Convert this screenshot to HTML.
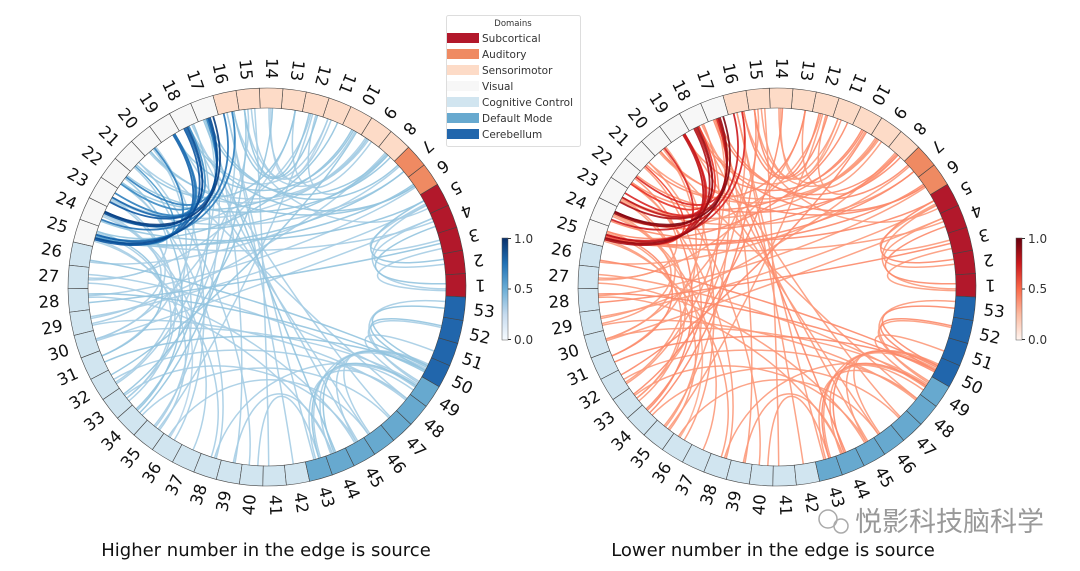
<!DOCTYPE html>
<html><head><meta charset="utf-8">
<style>
body{margin:0;background:#fff;width:1080px;height:571px;overflow:hidden;font-family:"DejaVu Sans","Liberation Sans",sans-serif}
svg{display:block}
</style></head>
<body>
<svg id="chart" width="1080" height="571" viewBox="0 0 1080 571">
<defs>
<linearGradient id="gBlues" x1="0" y1="1" x2="0" y2="0">
<stop offset="0" stop-color="#f7fbff"/><stop offset="0.25" stop-color="#c6dbef"/><stop offset="0.5" stop-color="#6baed6"/><stop offset="0.75" stop-color="#2171b5"/><stop offset="1" stop-color="#08306b"/>
</linearGradient>
<linearGradient id="gReds" x1="0" y1="1" x2="0" y2="0">
<stop offset="0" stop-color="#fff5f0"/><stop offset="0.25" stop-color="#fcbba1"/><stop offset="0.5" stop-color="#fb6a4a"/><stop offset="0.75" stop-color="#cb181d"/><stop offset="1" stop-color="#67000d"/>
</linearGradient>
</defs>
<g id="left"></g>
<g id="right"></g>

<g>
<rect x="502" y="238" width="6" height="102" fill="url(#gBlues)" stroke="#555" stroke-width="0.5"/>
<line x1="508" y1="238.5" x2="511" y2="238.5" stroke="#333"/><line x1="508" y1="289" x2="511" y2="289" stroke="#333"/><line x1="508" y1="339.5" x2="511" y2="339.5" stroke="#333"/>
<text x="514" y="243" font-size="12" fill="#333">1.0</text><text x="514" y="293" font-size="12" fill="#333">0.5</text><text x="514" y="344" font-size="12" fill="#333">0.0</text>
</g>
<g>
<rect x="1016" y="238" width="6" height="102" fill="url(#gReds)" stroke="#555" stroke-width="0.5"/>
<line x1="1022" y1="238.5" x2="1025" y2="238.5" stroke="#333"/><line x1="1022" y1="289" x2="1025" y2="289" stroke="#333"/><line x1="1022" y1="339.5" x2="1025" y2="339.5" stroke="#333"/>
<text x="1028" y="243" font-size="12" fill="#333">1.0</text><text x="1028" y="293" font-size="12" fill="#333">0.5</text><text x="1028" y="344" font-size="12" fill="#333">0.0</text>
</g>

<g>
<rect x="446.5" y="15.5" width="134" height="131" rx="2" fill="#fff" stroke="#ddd"/>
<text x="513" y="26" font-size="8.5" text-anchor="middle" fill="#333">Domains</text>
<g font-size="10.5" fill="#333">
<rect x="447" y="33" width="32" height="10" fill="#b2182b"/><text x="482" y="42">Subcortical</text>
<rect x="447" y="49" width="32" height="10" fill="#ef8a62"/><text x="482" y="58">Auditory</text>
<rect x="447" y="65" width="32" height="10" fill="#fddbc7"/><text x="482" y="74">Sensorimotor</text>
<rect x="447" y="81" width="32" height="10" fill="#f7f7f7"/><text x="482" y="90">Visual</text>
<rect x="447" y="97" width="32" height="10" fill="#d1e5f0"/><text x="482" y="106">Cognitive Control</text>
<rect x="447" y="113" width="32" height="10" fill="#67a9cf"/><text x="482" y="122">Default Mode</text>
<rect x="447" y="129" width="32" height="10" fill="#2166ac"/><text x="482" y="138">Cerebellum</text>
</g></g>

<text x="266" y="556" font-size="18" text-anchor="middle" fill="#111">Higher number in the edge is source</text>
<text x="773" y="556" font-size="18" text-anchor="middle" fill="#111">Lower number in the edge is source</text>
<g>
<circle cx="828" cy="519" r="9" fill="none" stroke="#aaa" stroke-width="1.5"/><circle cx="841" cy="526" r="7" fill="none" stroke="#aaa" stroke-width="1.5"/>
<text x="855" y="531" font-size="27" fill="#999" font-family="'Liberation Sans','Noto Sans CJK SC',sans-serif">悦影科技脑科学</text>
</g>
</svg>
<script>
const domainNames = ["Subcortical","Auditory","Sensorimotor","Visual","Cognitive Control","Default Mode","Cerebellum"];
const domainColors = ["#b2182b","#ef8a62","#fddbc7","#f7f7f7","#d1e5f0","#67a9cf","#2166ac"];
const domainCounts = [5,2,9,9,17,7,4];
const edgePairs = [
[17,24],[17,25],[18,24],[18,25],[19,25],[17,23],[18,23],[19,24],[20,25],[17,22],[16,24],[16,25],[18,22],[21,25],[19,23],
[25,6],[25,7],[24,5],[24,8],[23,9],[22,10],[25,11],[24,12],[21,13],[20,9],[19,10],[18,11],[17,8],[16,12],[15,11],[14,10],[15,12],[13,9],[17,7],[18,6],[16,5],[25,4],[23,7],[15,9],[12,8],[14,11],[20,6],[22,8],[21,9],
[1,4],[2,5],[1,5],[2,4],[3,5],[1,3],
[53,50],[52,50],[53,49],[51,49],[52,49],
[43,49],[44,49],[44,50],[45,50],[43,50],[46,50],[43,48],
[26,50],[28,50],[30,49],[31,50],[29,48],[33,14],[34,15],[35,12],[32,10],[29,8],[36,20],[38,22],[40,21],[44,17],[45,18],[46,19],[42,16],[37,24],[33,23],[34,22],[35,21],[32,20],[31,19],[30,15],[27,13],[26,7],[28,6],[27,22],[29,24],[31,25],[30,23],[33,25],[35,25],[36,24],[38,25],[39,17],[41,15],[43,16],[47,18],[48,20],[27,49],[32,48],[34,47],[36,46],[33,45],[39,44],[40,43],[29,5],[30,4],[28,3],[34,18],[35,17],[33,16],[32,17],[44,28],[45,27],[38,49]
];
const edgeWeights = [
.95,.9,.9,.85,.8,.85,.8,.75,.7,.7,.75,.7,.65,.6,.7,
.4,.4,.4,.4,.35,.4,.4,.35,.4,.35,.4,.35,.4,.4,.35,.35,.4,.35,.4,.4,.35,.35,.35,.35,.35,.3,.4,.4,.35,
.4,.4,.35,.35,.35,.35,
.4,.4,.35,.35,.35,
.4,.35,.4,.35,.35,.35,.35,
.4,.4,.35,.4,.35,.4,.4,.35,.4,.35,
.35,.35,.35,.4,.35,.35,.35,.35,.35,.4,
.35,.35,.35,.35,.35,.35,.35,.35,.35,.4,
.35,.35,.35,.3,.35,.35,.35,.35,.35,.35,
.35,.35,.35,.35,.35,.35,.35,.35,.35,.4,
.4,.35,.35,.35,.35,.35,.35
];
const blues=["#f7fbff","#deebf7","#c6dbef","#9ecae1","#6baed6","#4292c6","#2171b5","#08519c","#08306b"];
const reds=["#fff5f0","#fee0d2","#fcbba1","#fc9272","#fb6a4a","#ef3b2c","#cb181d","#a50f15","#67000d"];
function cmap(stops,v){if(!(v>=0))v=0;v=Math.min(1,v);const t=v*(stops.length-1);const i=Math.min(Math.floor(t),stops.length-2);const f=t-i;
const a=stops[i],b=stops[i+1];const c=k=>Math.round(parseInt(a.substr(k,2),16)*(1-f)+parseInt(b.substr(k,2),16)*f);return `rgb(${c(1)},${c(3)},${c(5)})`;}
const NS="http://www.w3.org/2000/svg";
const N=53, step=360/N, R_OUT=199, R_IN=179;
function ang(i){return (i-1)*step+0.5;}
function pt(cx,cy,r,deg){const a=deg*Math.PI/180;return [cx+r*Math.cos(a),cy-r*Math.sin(a)];}
const nodeDomain=[];domainCounts.forEach((c,d)=>{for(let k=0;k<c;k++)nodeDomain.push(d);});
function draw(gid,cx,cy,stops){
 const g=document.getElementById(gid);
 const eg=document.createElementNS(NS,"g");
 
 
 g.appendChild(eg);
 const M=Math.min(edgePairs.length,edgeWeights.length);
 const idx=[];for(let k=0;k<M;k++)idx.push(k);
 idx.sort((a,b)=>edgeWeights[a]-edgeWeights[b]);
 idx.forEach(k=>{
  const [a,b]=edgePairs[k];const w=edgeWeights[k];
  const ja=((k*37)%7-3)*0.55, jb=((k*53)%7-3)*0.55;
  const ta=ang(a)+ja, tb=ang(b)+jb;
  const p0=pt(cx,cy,R_IN,ta),p1=pt(cx,cy,R_IN/2,ta),p2=pt(cx,cy,R_IN/2,tb),p3=pt(cx,cy,R_IN,tb);
  const p=document.createElementNS(NS,"path");
  p.setAttribute('d',`M${p0[0].toFixed(1)},${p0[1].toFixed(1)} C${p1[0].toFixed(1)},${p1[1].toFixed(1)} ${p2[0].toFixed(1)},${p2[1].toFixed(1)} ${p3[0].toFixed(1)},${p3[1].toFixed(1)}`);
  p.setAttribute('fill','none');p.setAttribute('stroke',cmap(stops,w));p.setAttribute('stroke-width',w>0.6?1.8:1.5);p.setAttribute('stroke-opacity',0.9);
  
  
  eg.appendChild(p);
 });
 for(let i=1;i<=N;i++){
  const t0=ang(i)-step/2,t1=ang(i)+step/2;
  const a=pt(cx,cy,R_OUT,t0),b=pt(cx,cy,R_OUT,t1),c=pt(cx,cy,R_IN,t1),d=pt(cx,cy,R_IN,t0);
  const s=document.createElementNS(NS,"path");
  s.setAttribute('d',`M${a[0]},${a[1]} A${R_OUT},${R_OUT} 0 0 0 ${b[0]},${b[1]} L${c[0]},${c[1]} A${R_IN},${R_IN} 0 0 1 ${d[0]},${d[1]} Z`);
  s.setAttribute('fill',domainColors[nodeDomain[i-1]]);s.setAttribute('stroke','#444');s.setAttribute('stroke-width','0.6');
  
  
  g.appendChild(s);
  const th=ang(i);const lp=pt(cx,cy,R_OUT+9,th);
  const tx=document.createElementNS(NS,"text");
  tx.textContent=String(i);
  tx.setAttribute('x',lp[0]);tx.setAttribute('y',lp[1]);
  tx.setAttribute('font-size','16.5');tx.setAttribute('fill','#111');tx.setAttribute('dominant-baseline','central');
  if(th>=270){tx.setAttribute('text-anchor','start');tx.setAttribute('transform',`rotate(${-th} ${lp[0]} ${lp[1]})`);}
  else{tx.setAttribute('text-anchor','end');tx.setAttribute('transform',`rotate(${-(th+180)} ${lp[0]} ${lp[1]})`);}
  
  
  g.appendChild(tx);
 }
}
draw('left',267,287,blues);
draw('right',777,287,reds);
</script>
</body></html>
